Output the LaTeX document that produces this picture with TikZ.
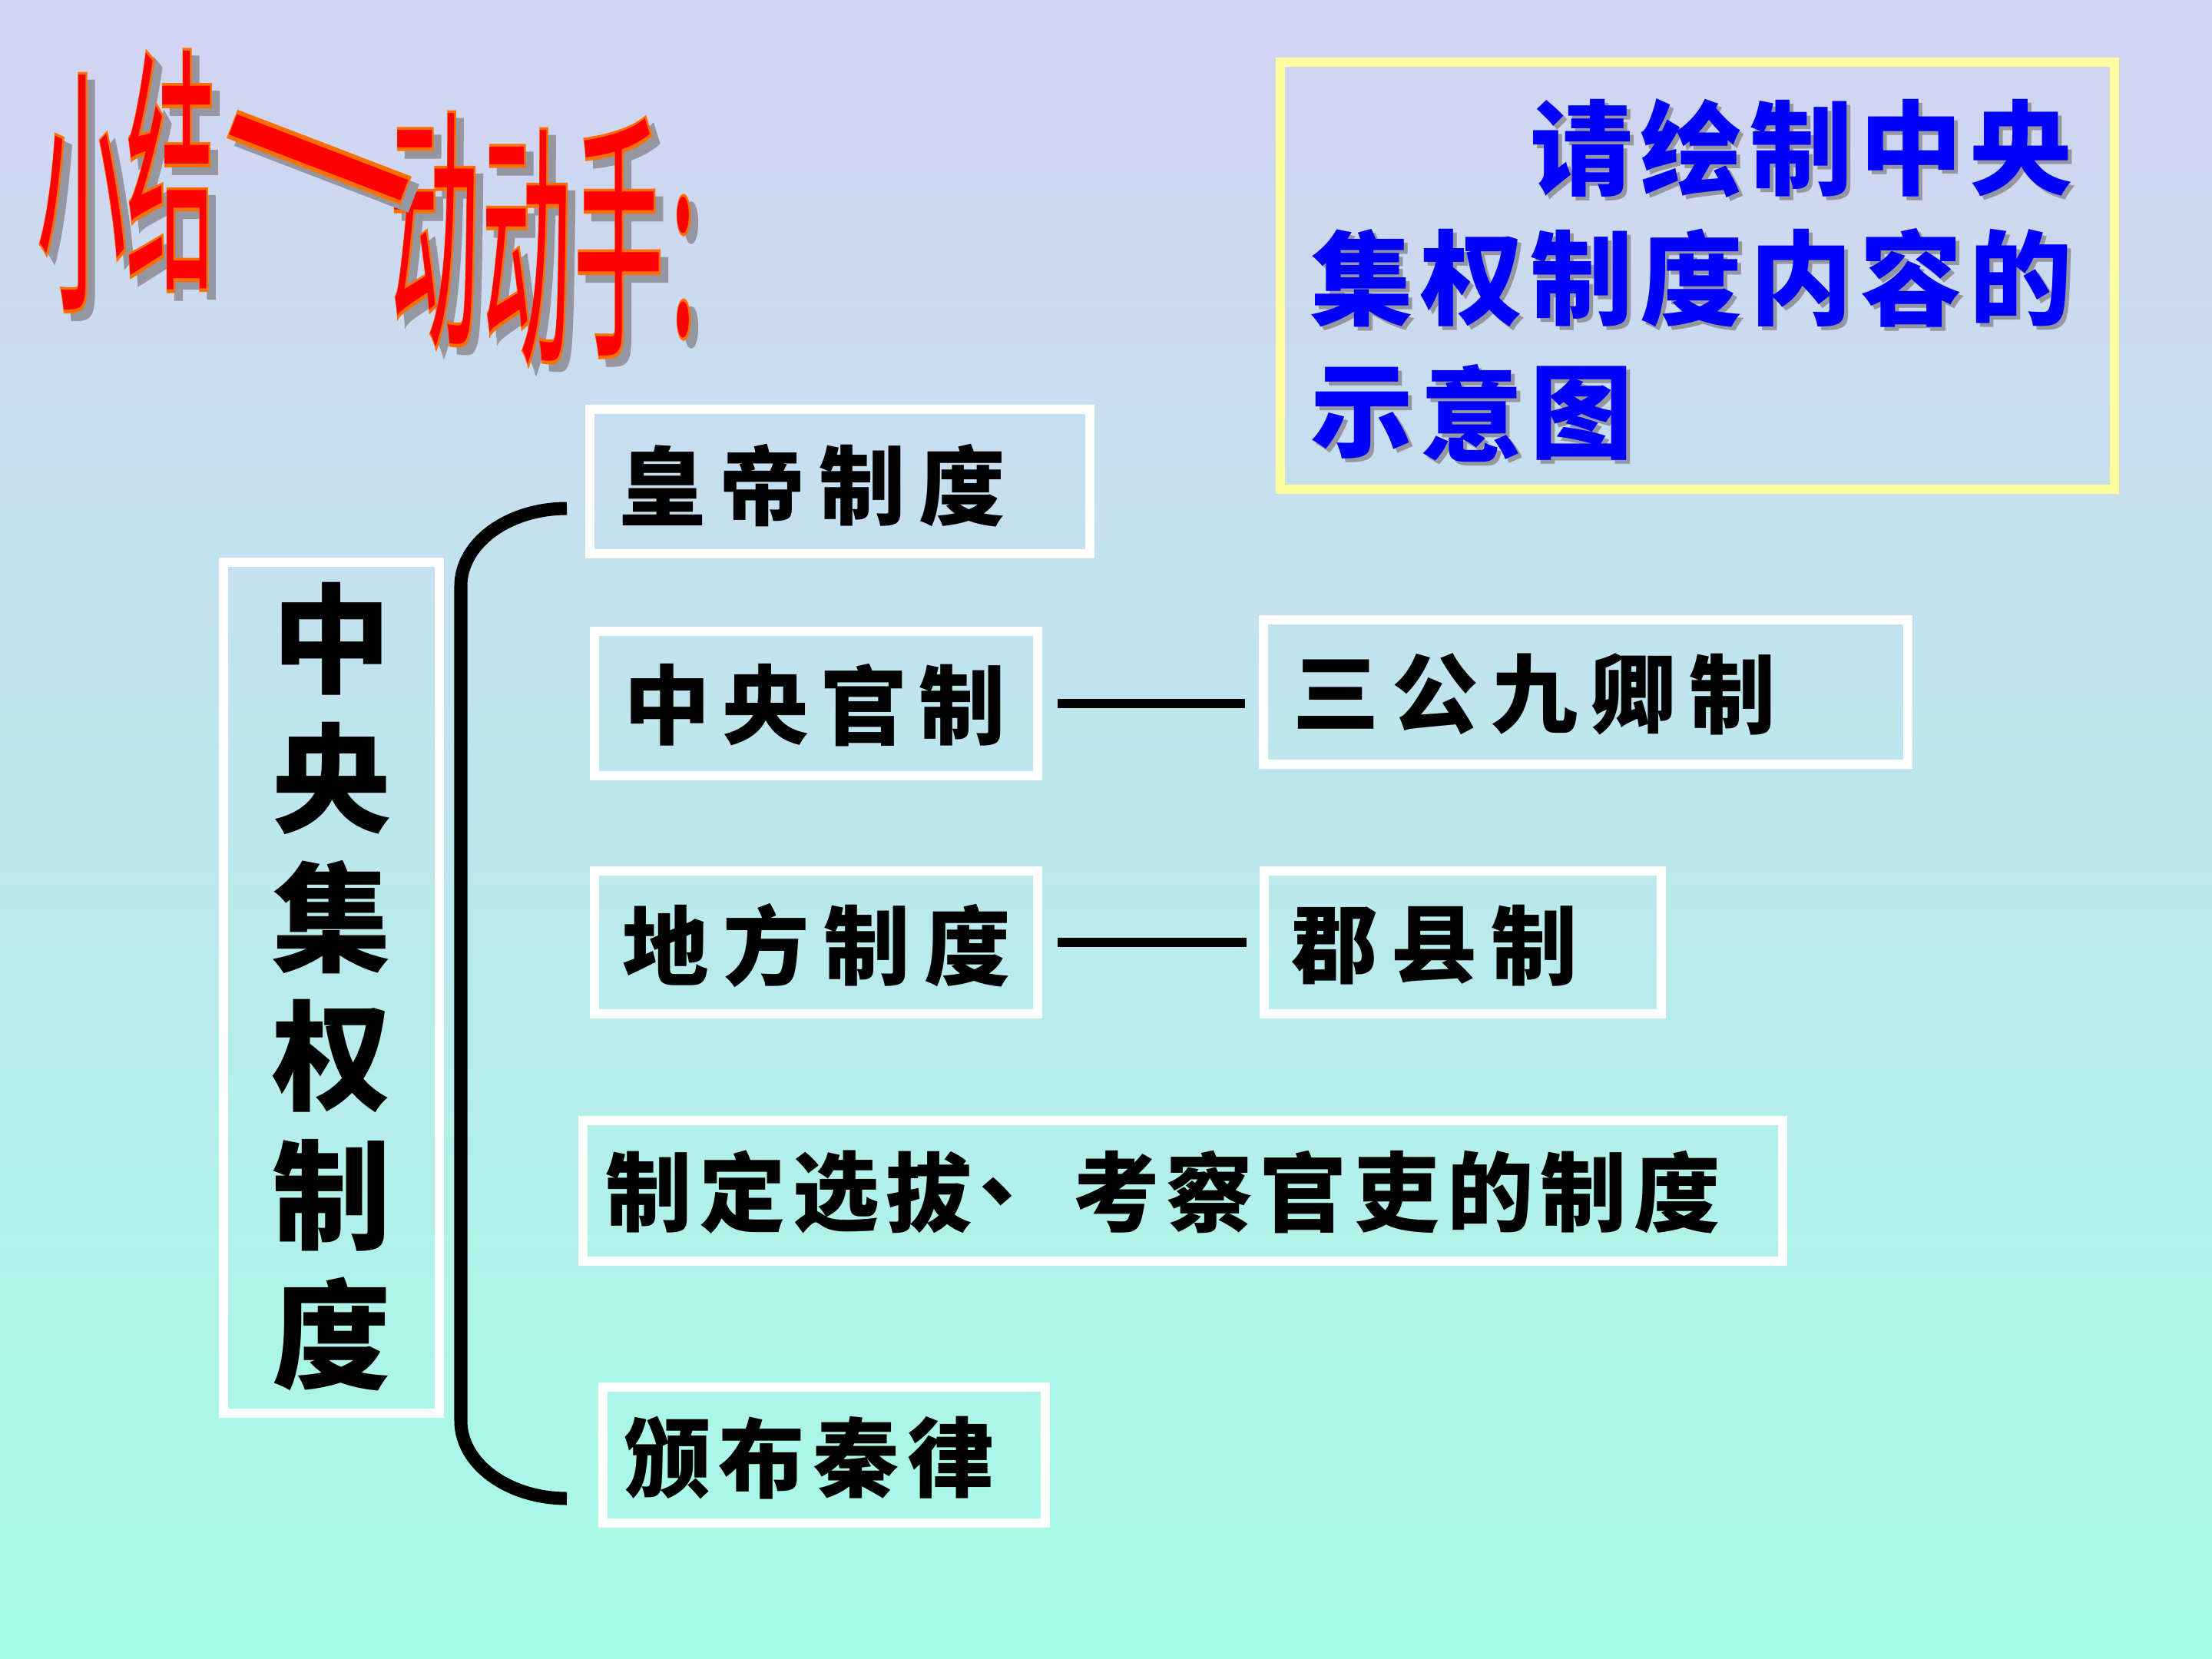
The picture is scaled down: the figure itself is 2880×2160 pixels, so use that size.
\documentclass[tikz,border=0pt]{standalone}
\usepackage{fontspec}
\newfontfamily\cjk{Noto Sans CJK SC}
\newfontfamily\cjkfb[FakeBold=2.5]{Noto Sans CJK SC}
\usetikzlibrary{calc}
\definecolor{bgtop}{RGB}{211,211,243}
\definecolor{bgbot}{RGB}{165,252,230}
\definecolor{frameyellow}{RGB}{255,255,160}
\definecolor{titlered}{RGB}{255,0,0}
\definecolor{titleorange}{RGB}{255,110,0}
\definecolor{shadowgray}{RGB}{150,150,160}
\definecolor{textblue}{RGB}{0,0,255}
\newcommand\crow[7]{%
  \foreach \c [count=\i] in {#7}
    \node[#2] (#1-\i) at ({#3+(\i-1)*#5},{#4+(\i-1)*#6}) {\c};}
\begin{document}
\begin{tikzpicture}[x=0.01cm,y=-0.01cm,
  wbox/.style={draw=white, line width=0.12cm, inner sep=0, fill=none},
  ybox/.style={draw=frameyellow, line width=0.12cm, inner sep=0},
  btxt/.style={font=\cjk\bfseries\fontsize{32}{32}\selectfont, inner sep=0, text=black},
  vtxt/.style={font=\cjk\bfseries\fontsize{44}{44}\selectfont, inner sep=0, text=black},
  blu/.style={font=\cjk\bfseries\fontsize{38}{38}\selectfont, inner sep=0, text=textblue},
  blush/.style={blu, text=shadowgray},
  ttlbase/.style={inner sep=0, xscale=1.1, yscale=3.2},
  ttlsh/.style={ttlbase, font=\cjkfb\fontsize{30}{30}\selectfont, text=shadowgray},
  ttlor/.style={ttlbase, font=\cjkfb\fontsize{30}{30}\selectfont, text=titleorange},
  ttlred/.style={ttlbase, font=\cjk\fontsize{30}{30}\selectfont, text=titlered},
  dashfix/.style={xscale=1.3, yscale=1.35},
  conn/.style={line width=0.12cm, black},
  bracel/.style={line width=0.17cm, black}]
\shade[top color=bgtop, bottom color=bgbot] (0,0) rectangle (2880,2160);
\useasboundingbox (0,0) rectangle (2880,2160);

% title
\foreach \n/\c/\x/\y in {1/小/107/251, 2/结/223/222, 4/动/566/300, 5/动/686/322, 6/手/806/309, 7/:/890/348}{
  \node[ttlsh] (ttls-\n) at (\x+10,\y+10) {\c};
  \node[ttlor] (ttlo-\n) at (\x,\y) {\c};
  \node[ttlred] (ttl-\n) at (\x,\y) {\c};
}
\node[rotate=-21, ttlsh, dashfix] (ttls-3) at (405,268) {——};
\node[rotate=-21, ttlor, dashfix] (ttlo-3) at (395,258) {——};
\node[rotate=-21, ttlred, dashfix] (ttl-3) at (395,258) {——};

% instruction box
\node[ybox, minimum width=1086*0.01cm, minimum height=556*0.01cm] (ibox) at (2210,359) {};
\crow{qs}{blush}{2064}{198}{143}{0}{请,绘,制,中,央}
\crow{q}{blu}{2059}{193}{143}{0}{请,绘,制,中,央}
\crow{rs}{blush}{1778}{367}{143}{0}{集,权,制,度,内,容,的}
\crow{r}{blu}{1773}{362}{143}{0}{集,权,制,度,内,容,的}
\crow{ss}{blush}{1778}{543}{143}{0}{示,意,图}
\crow{s}{blu}{1773}{538}{143}{0}{示,意,图}

% boxes
\node[wbox, minimum width=281*0.01cm, minimum height=1108*0.01cm] (box0) at (431.5,1286) {};
\node[wbox, minimum width=651*0.01cm, minimum height=188*0.01cm] (box1) at (1093.5,627) {};
\node[wbox, minimum width=577*0.01cm, minimum height=188*0.01cm] (box2) at (1062.5,916) {};
\node[wbox, minimum width=839*0.01cm, minimum height=188*0.01cm] (box3) at (2064,901) {};
\node[wbox, minimum width=577*0.01cm, minimum height=186*0.01cm] (box4) at (1062.5,1227) {};
\node[wbox, minimum width=517*0.01cm, minimum height=186*0.01cm] (box5) at (1904.5,1227) {};
\node[wbox, minimum width=1562*0.01cm, minimum height=183*0.01cm] (box6) at (1540,1550.5) {};
\node[wbox, minimum width=576*0.01cm, minimum height=177*0.01cm] (box7) at (1073,1894.5) {};

% box texts
\crow{v}{vtxt}{432}{832}{0}{181}{中,央,集,权,制,度}
\crow{a}{btxt}{863}{632}{130}{0}{皇,帝,制,度}
\crow{b}{btxt}{869}{918}{128}{0}{中,央,官,制}
\crow{c}{btxt}{1740}{904}{129}{0}{三,公,九,卿,制}
\crow{d}{btxt}{867}{1231}{131}{0}{地,方,制,度}
\crow{e}{btxt}{1738}{1231}{130}{0}{郡,县,制}
\crow{f}{btxt}{845}{1552}{121.7}{0}{制,定,选,拔,、,考,察,官,吏,的,制,度}
\crow{g}{btxt}{869}{1898}{123}{0}{颁,布,秦,律}

% connectors
\draw[conn, shorten <=0.2cm, shorten >=0.17cm] (box2.east) -- (box2.east -| box3.west);
\draw[conn, shorten <=0.2cm, shorten >=0.17cm] (box4.east) -- (box4.east -| box5.west);

% brace
\coordinate (bt) at (738,662);
\coordinate (bb) at (738,1951);
\draw[bracel] (bt) .. controls (662,662) and (600,707) .. (600,763)
  -- (600,1850) .. controls (600,1906) and (662,1951) .. (bb);
\end{tikzpicture}
\end{document}
